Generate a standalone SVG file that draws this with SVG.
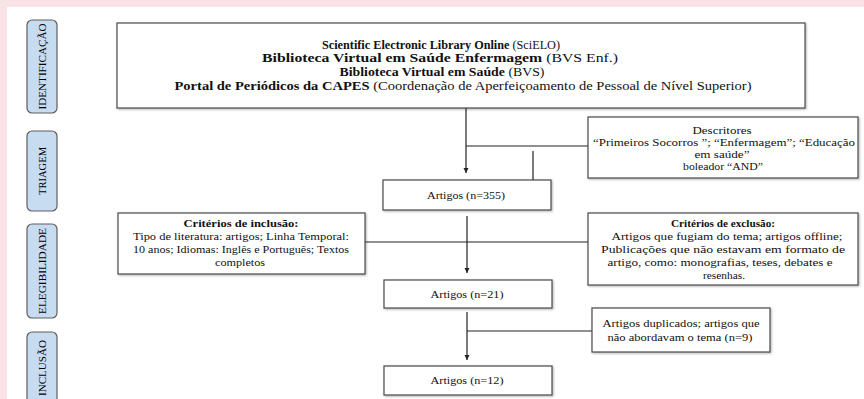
<svg xmlns="http://www.w3.org/2000/svg" width="864" height="399" viewBox="0 0 864 399">
<style>
.bg{fill:#f8e4e6}
.box{fill:#ffffff;stroke:#4a4a4a;stroke-width:1.2;filter:url(#sh)}
.tab{fill:#c7dbf1;stroke:#5e5e5e;stroke-width:1.2}
text{font-family:"Liberation Serif","Times New Roman",serif;fill:#111;text-anchor:middle}
.tt{font-size:11px;fill:#000}
.b{font-weight:bold}
.ln{stroke:#222;stroke-width:1.2;fill:none}
</style>
<defs>
<marker id="ah" markerWidth="6" markerHeight="6" refX="5" refY="3" orient="auto" markerUnits="userSpaceOnUse">
<path d="M0,0.5 L5,3 L0,5.5 z" fill="#222"/>
</marker>
<filter id="sh" x="-5%" y="-10%" width="110%" height="130%">
<feDropShadow dx="1" dy="1" stdDeviation="0.8" flood-color="#000" flood-opacity="0.3"/>
</filter>
</defs>
<rect class="bg" x="0" y="0" width="864" height="399"/>
<rect x="7" y="7" width="857" height="392" fill="#ffffff"/>

<g id="tab-identificacao">
<rect class="tab" x="27" y="20" width="30" height="93" rx="5"/>
<text class="tt" transform="translate(46,66.5) rotate(-90)" textLength="86" lengthAdjust="spacingAndGlyphs">IDENTIFICAÇÃO</text>
</g>
<g id="tab-triagem">
<rect class="tab" x="27" y="131" width="30" height="80" rx="5"/>
<text class="tt" transform="translate(46,171) rotate(-90)" textLength="48" lengthAdjust="spacingAndGlyphs">TRIAGEM</text>
</g>
<g id="tab-elegibilidade">
<rect class="tab" x="27" y="224" width="30" height="94" rx="5"/>
<text class="tt" transform="translate(46,271) rotate(-90)" textLength="86" lengthAdjust="spacingAndGlyphs">ELEGIBILIDADE</text>
</g>
<g id="tab-inclusao">
<rect class="tab" x="27" y="332" width="30" height="75" rx="5"/>
<text class="tt" transform="translate(46,368) rotate(-90)" textLength="56" lengthAdjust="spacingAndGlyphs">INCLUSÃO</text>
</g>

<g id="connectors">
<line class="ln" x1="466" y1="108" x2="466" y2="173" marker-end="url(#ah)"/>
<line class="ln" x1="466" y1="146" x2="588" y2="146"/>
<line class="ln" x1="533" y1="151" x2="533" y2="187"/>
<line class="ln" x1="467" y1="216" x2="467" y2="273" marker-end="url(#ah)"/>
<line class="ln" x1="365" y1="242" x2="588" y2="242"/>
<line class="ln" x1="467" y1="312" x2="467" y2="360" marker-end="url(#ah)"/>
<line class="ln" x1="467" y1="331" x2="592" y2="331"/>
</g>

<g id="fontes">
<rect class="box" x="117" y="23" width="688" height="85"/>
<text x="441" y="49" font-size="12" textLength="238" lengthAdjust="spacingAndGlyphs"><tspan class="b">Scientific Electronic Library Online</tspan> (SciELO)</text>
<text x="440" y="62" font-size="12" textLength="356" lengthAdjust="spacingAndGlyphs"><tspan class="b">Biblioteca Virtual  em Saúde Enfermagem</tspan> (BVS Enf.)</text>
<text x="442" y="76" font-size="12" textLength="205" lengthAdjust="spacingAndGlyphs"><tspan class="b">Biblioteca Virtual  em Saúde</tspan> (BVS)</text>
<text x="463" y="90" font-size="12" textLength="577" lengthAdjust="spacingAndGlyphs"><tspan class="b">Portal de Periódicos da CAPES</tspan> (Coordenação de Aperfeiçoamento  de Pessoal de Nível Superior)</text>
</g>

<g id="descritores">
<rect class="box" x="588" y="117" width="270" height="61"/>
<text x="722" y="134" font-size="11" textLength="59" lengthAdjust="spacingAndGlyphs">Descritores</text>
<text x="724" y="146" font-size="11" textLength="262" lengthAdjust="spacingAndGlyphs">“Primeiros Socorros ”; “Enfermagem”; “Educação</text>
<text x="722" y="158" font-size="11" textLength="55" lengthAdjust="spacingAndGlyphs">em saúde”</text>
<text x="723" y="170" font-size="11" textLength="80" lengthAdjust="spacingAndGlyphs">boleador “AND”</text>
</g>

<g id="artigos-355">
<rect class="box" x="383" y="180" width="168" height="30"/>
<text x="466" y="199" font-size="11" textLength="78" lengthAdjust="spacingAndGlyphs">Artigos (n=355)</text>
</g>

<g id="inclusao">
<rect class="box" x="118" y="213" width="247" height="61"/>
<text class="b" x="241" y="227" font-size="11" textLength="115" lengthAdjust="spacingAndGlyphs">Critérios de inclusão:</text>
<text x="241" y="240" font-size="11" textLength="216" lengthAdjust="spacingAndGlyphs">Tipo de literatura: artigos; Linha Temporal:</text>
<text x="241" y="253" font-size="11" textLength="216" lengthAdjust="spacingAndGlyphs">10 anos; Idiomas: Inglês e Português; Textos</text>
<text x="240" y="266" font-size="11" textLength="50" lengthAdjust="spacingAndGlyphs">completos</text>
</g>

<g id="exclusao">
<rect class="box" x="588" y="213" width="270" height="72"/>
<text class="b" x="723" y="227" font-size="11" textLength="104" lengthAdjust="spacingAndGlyphs">Critérios de exclusão:</text>
<text x="727" y="240" font-size="11" textLength="231" lengthAdjust="spacingAndGlyphs">Artigos que fugiam  do tema; artigos offline;</text>
<text x="723" y="253" font-size="11" textLength="244" lengthAdjust="spacingAndGlyphs">Publicações que não estavam em formato de</text>
<text x="720" y="266" font-size="11" textLength="225" lengthAdjust="spacingAndGlyphs">artigo, como: monografias, teses, debates e</text>
<text x="724" y="279" font-size="11" textLength="42" lengthAdjust="spacingAndGlyphs">resenhas.</text>
</g>

<g id="artigos-21">
<rect class="box" x="384" y="280" width="168" height="28"/>
<text x="467" y="298" font-size="11" textLength="73" lengthAdjust="spacingAndGlyphs">Artigos (n=21)</text>
</g>

<g id="duplicados">
<rect class="box" x="592" y="308" width="178" height="44"/>
<text x="681" y="327" font-size="11" textLength="157" lengthAdjust="spacingAndGlyphs">Artigos duplicados; artigos que</text>
<text x="680" y="341" font-size="11" textLength="145" lengthAdjust="spacingAndGlyphs">não abordavam o tema (n=9)</text>
</g>

<g id="artigos-12">
<rect class="box" x="384" y="366" width="168" height="29"/>
<text x="467" y="384" font-size="11" textLength="73" lengthAdjust="spacingAndGlyphs">Artigos (n=12)</text>
</g>
</svg>
